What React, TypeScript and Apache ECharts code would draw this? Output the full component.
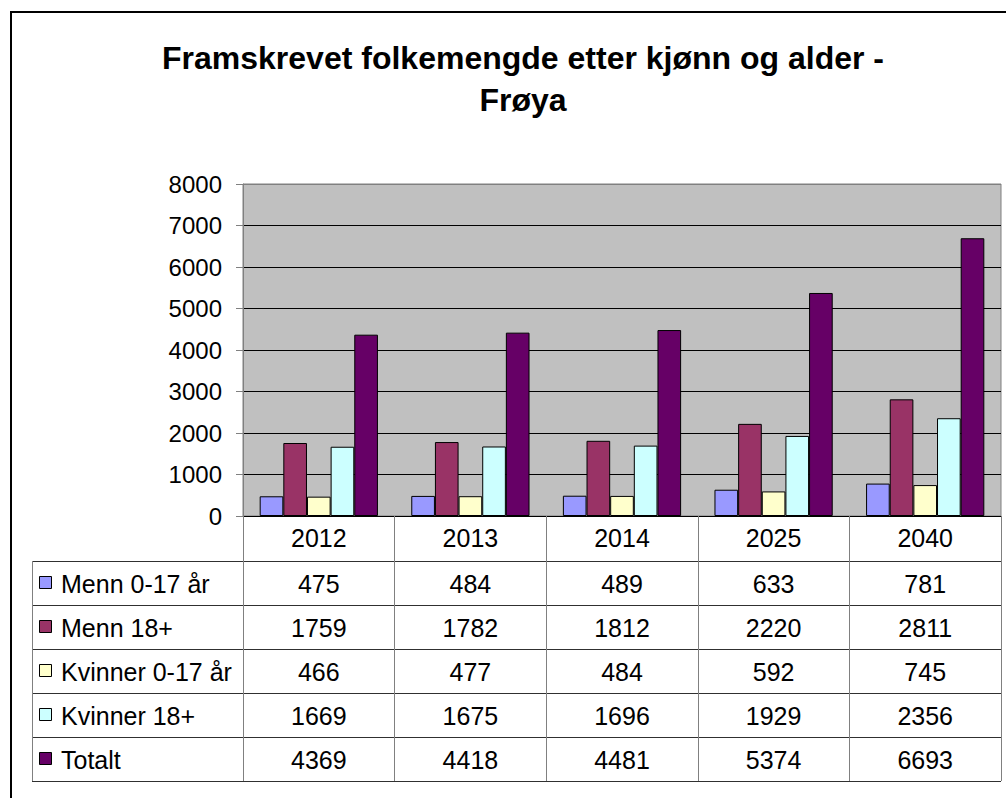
import React, { useEffect, useRef } from "react";
import * as echarts from "echarts";

const titleText = "Framskrevet folkemengde etter kjønn og alder -\nFrøya";
const categories = ["2012", "2013", "2014", "2025", "2040"];
const seriesNames = ["Menn 0-17 år", "Menn 18+", "Kvinner 0-17 år", "Kvinner 18+", "Totalt"];
const menn017 = [475, 484, 489, 633, 781];
const menn18 = [1759, 1782, 1812, 2220, 2811];
const kvinner017 = [466, 477, 484, 592, 745];
const kvinner18 = [1669, 1675, 1696, 1929, 2356];
const totalt = [4369, 4418, 4481, 5374, 6693];
const seriesValues = [menn017, menn18, kvinner017, kvinner18, totalt];
const yMin = 0;
const yMax = 8000;
const yInterval = 1000;
const colors = ["#9999FF", "#993366", "#FFFFCC", "#CCFFFF", "#660066"];

const FONT = "'Liberation Sans', Arial, sans-serif";

export default function App() {
  const ref = useRef<HTMLDivElement>(null);

  useEffect(() => {
    if (!ref.current) return;
    const chart = echarts.init(ref.current, null, { renderer: "svg" });

    const gridLeft = 243;
    const gridRight = 5;
    const gridTop = 184;
    const gridBottom = 282;
    const W = 1006;
    const H = 798;
    const axisY = H - gridBottom; // 516
    const tableTop = 561;
    const rowH = 44;
    const tableLeft = 32;
    const tableRight = W - gridRight;

    const splitColors: string[] = [];
    for (let v = yMin; v <= yMax; v += yInterval) {
      splitColors.push(v === yMax ? "#808080" : "#000000");
    }

    chart.setOption({
      animation: false,
      textStyle: { fontFamily: FONT },
      grid: {
        left: gridLeft,
        right: gridRight,
        top: gridTop,
        bottom: gridBottom,
        show: true,
        backgroundColor: "#C0C0C0",
        borderColor: "#808080",
        borderWidth: 1,
      },
      xAxis: {
        type: "category",
        data: categories,
        boundaryGap: true,
        axisLine: { show: true, lineStyle: { color: "#000", width: 1 } },
        axisTick: {
          show: true,
          length: tableTop + rowH * seriesNames.length - axisY,
          lineStyle: { color: "#808080", width: 1 },
        },
        axisLabel: { fontSize: 25, color: "#000", margin: 9, fontFamily: FONT },
        splitLine: { show: false },
      },
      yAxis: {
        type: "value",
        min: yMin,
        max: yMax,
        interval: yInterval,
        axisLine: { show: true, lineStyle: { color: "#808080", width: 1 } },
        axisTick: { show: true, length: 7, lineStyle: { color: "#808080" } },
        axisLabel: {
          fontSize: 24,
          color: "#000",
          margin: 21,
          fontFamily: FONT,
          formatter: (v: number) => String(v),
        },
        splitLine: { show: true, lineStyle: { color: splitColors, width: 1 } },
      },
      series: seriesNames.map((name, i) => ({
        name,
        type: "bar",
        data: seriesValues[i],
        barGap: "0%",
        barCategoryGap: "22%",
        itemStyle: { color: colors[i], borderColor: "#000", borderWidth: 1 },
      })),
    });

    const graphics: any[] = [];
    // outer border
    graphics.push({
      type: "rect",
      shape: { x: 11, y: 12, width: 1200, height: 1000 },
      style: { fill: "none", stroke: "#000", lineWidth: 2 },
      silent: true,
    });
    // title
    graphics.push({
      type: "text",
      x: 523,
      y: 37,
      style: {
        text: titleText,
        fontSize: 32,
        fontWeight: "bold",
        fontFamily: FONT,
        fill: "#000",
        textAlign: "center",
        textVerticalAlign: "top",
        lineHeight: 42,
      },
    });
    // table horizontal lines
    for (let r = 0; r <= seriesNames.length; r++) {
      const y = tableTop + r * rowH;
      graphics.push({
        type: "line",
        shape: { x1: tableLeft, y1: y + 0.5, x2: tableRight, y2: y + 0.5 },
        style: { stroke: "#303030", lineWidth: 1 },
        silent: true,
      });
    }
    // left table border
    graphics.push({
      type: "line",
      shape: {
        x1: tableLeft + 0.5,
        y1: tableTop,
        x2: tableLeft + 0.5,
        y2: tableTop + rowH * seriesNames.length,
      },
      style: { stroke: "#808080", lineWidth: 1 },
      silent: true,
    });
    // rows
    seriesNames.forEach((name, i) => {
      const cy = tableTop + i * rowH + rowH / 2;
      graphics.push({
        type: "rect",
        shape: { x: 39.5, y: cy - 6.5, width: 12, height: 12 },
        style: { fill: colors[i], stroke: "#000", lineWidth: 1 },
        silent: true,
      });
      graphics.push({
        type: "text",
        x: 61,
        y: cy + 1,
        style: {
          text: name,
          fontSize: 25,
          fontFamily: FONT,
          fill: "#000",
          textAlign: "left",
          textVerticalAlign: "middle",
        },
      });
      categories.forEach((c, j) => {
        const px = chart.convertToPixel({ xAxisIndex: 0 }, j) as number;
        graphics.push({
          type: "text",
          x: px,
          y: cy + 1,
          style: {
            text: String(seriesValues[i][j]),
            fontSize: 25,
            fontFamily: FONT,
            fill: "#000",
            textAlign: "center",
            textVerticalAlign: "middle",
          },
        });
      });
    });

    chart.setOption({ graphic: { elements: graphics } });

    return () => chart.dispose();
  }, []);

  return (
    <div
      ref={ref}
      style={{ position: "fixed", left: 0, top: 0, width: 1006, height: 798, background: "#fff" }}
    />
  );
}
